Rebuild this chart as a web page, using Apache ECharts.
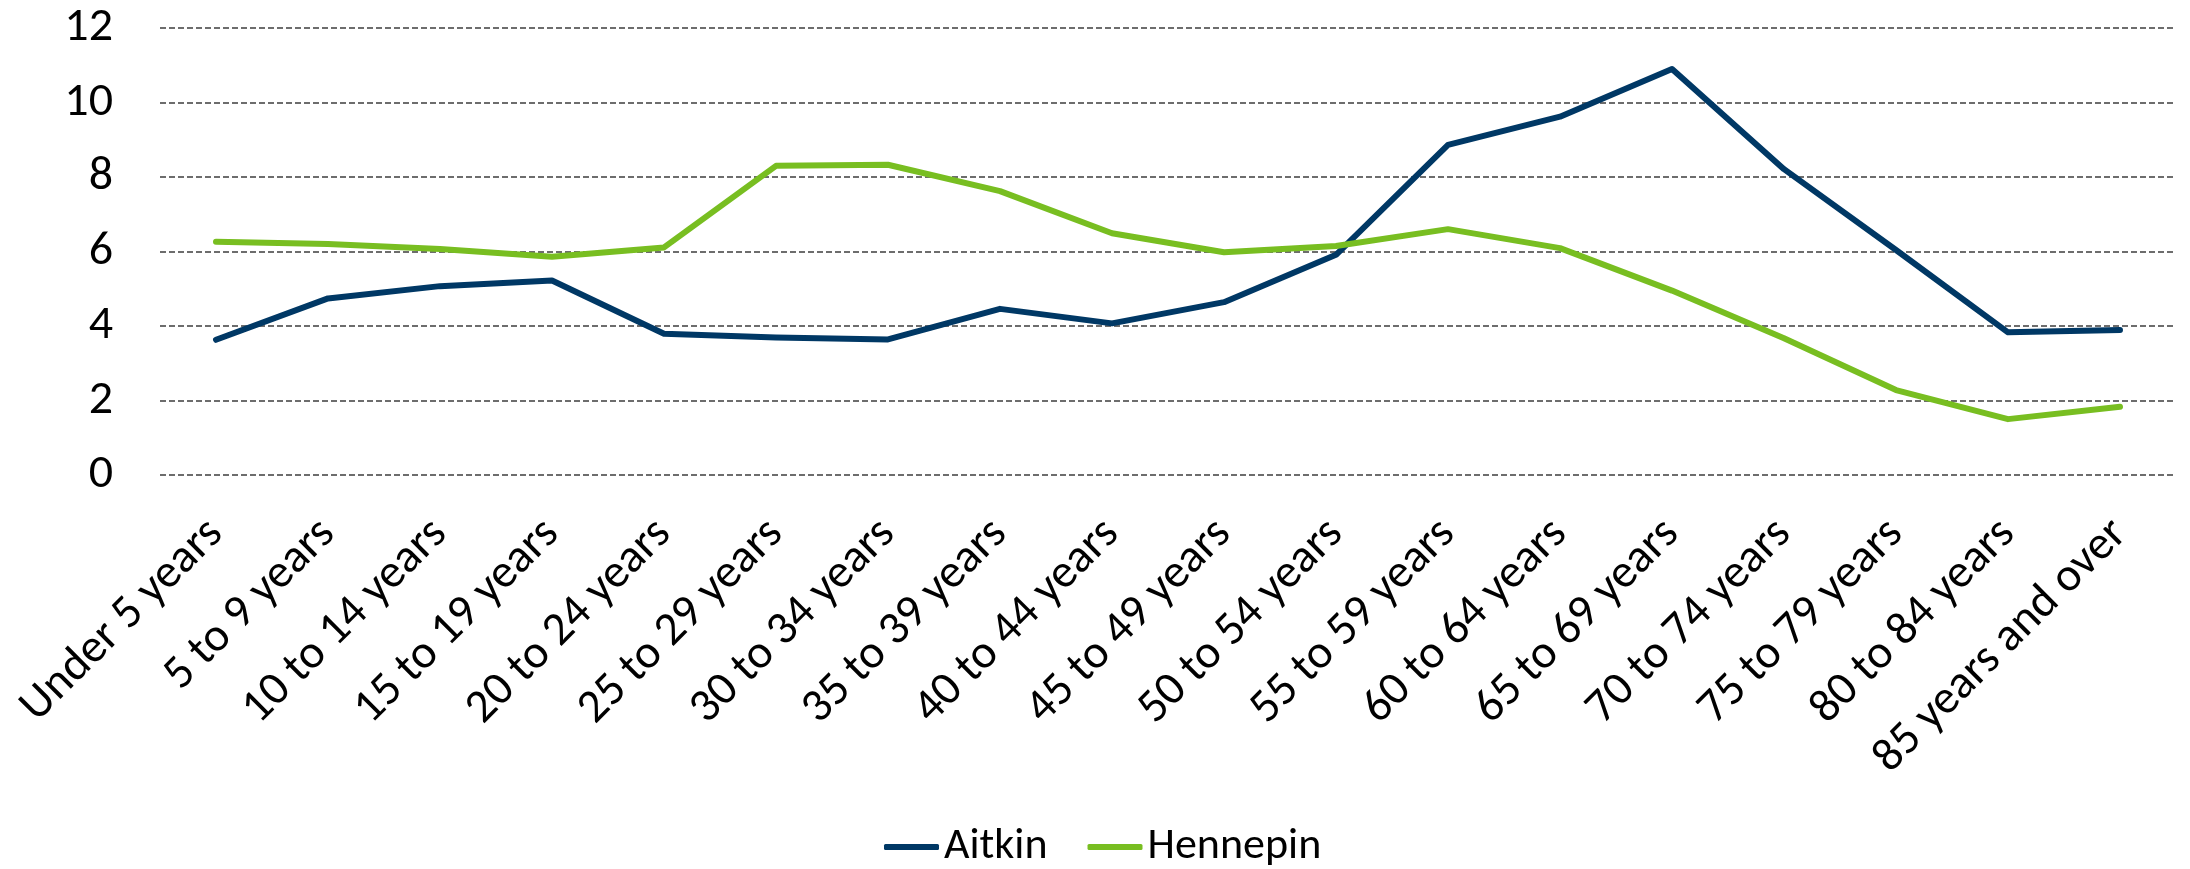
<!DOCTYPE html>
<html>
<head>
<meta charset="utf-8">
<script src="https://cdn.jsdelivr.net/npm/echarts@6/dist/echarts.min.js"></script>
<style>
html,body{margin:0;padding:0;background:#fff;}
#chart{width:2190px;height:869px;}
</style>
</head>
<body>
<div id="chart"></div>
<script>
const categories = ["Under 5 years","5 to 9 years","10 to 14 years","15 to 19 years","20 to 24 years","25 to 29 years","30 to 34 years","35 to 39 years","40 to 44 years","45 to 49 years","50 to 54 years","55 to 59 years","60 to 64 years","65 to 69 years","70 to 74 years","75 to 79 years","80 to 84 years","85 years and over"];
const aitkin = [3.63, 4.74, 5.07, 5.22, 3.79, 3.69, 3.64, 4.46, 4.07, 4.64, 5.91, 8.86, 9.62, 10.90, 8.21, 6.04, 3.83, 3.89];
const hennepin = [6.26, 6.20, 6.07, 5.86, 6.11, 8.30, 8.33, 7.62, 6.49, 5.98, 6.15, 6.60, 6.09, 4.95, 3.67, 2.28, 1.50, 1.83];
const seriesNames = ["Aitkin", "Hennepin"];
const yTicks = {min: 0, max: 12, interval: 2};

const FONT = "Calibri, Carlito, Lato, sans-serif";
const chart = echarts.init(document.getElementById('chart'), null, {renderer: 'canvas'});
chart.setOption({
  animation: false,
  backgroundColor: '#ffffff',
  grid: {left: 160, right: 14, top: 28, bottom: 394, containLabel: false},
  legend: {
    data: seriesNames,
    left: 879,
    top: 820,
    icon: 'roundRect',
    itemWidth: 55,
    itemHeight: 6,
    itemGap: 40,
    textStyle: {fontFamily: FONT, fontSize: 44, color: '#000'}
  },
  xAxis: {
    type: 'category',
    data: categories,
    boundaryGap: true,
    axisLine: {show: false},
    axisTick: {show: false},
    axisLabel: {rotate: 45, interval: 0, margin: 52, fontFamily: FONT, fontSize: 47, color: '#000'}
  },
  yAxis: {
    type: 'value',
    min: yTicks.min, max: yTicks.max, interval: yTicks.interval,
    axisLine: {show: false},
    axisTick: {show: false},
    axisLabel: {margin: 47, fontFamily: FONT, fontSize: 48, color: '#000'},
    splitLine: {show: true, lineStyle: {color: '#6d6d6d', width: 2, type: [6, 3]}}
  },
  series: [
    {name: seriesNames[0], type: 'line', data: aitkin, symbol: 'none', color: '#003865',
     lineStyle: {width: 6, color: '#003865', cap: 'round', join: 'round'}},
    {name: seriesNames[1], type: 'line', data: hennepin, symbol: 'none', color: '#78be21',
     lineStyle: {width: 6, color: '#78be21', cap: 'round', join: 'round'}}
  ]
});
</script>
</body>
</html>
